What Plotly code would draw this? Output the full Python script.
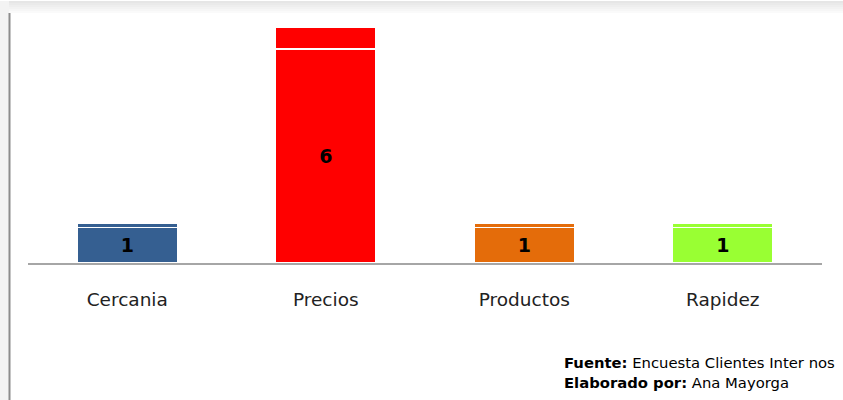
import plotly.graph_objects as go

categorias = ["Cercania", "Precios", "Productos", "Rapidez"]
valores = [1, 6, 1, 1]
colores = ["#355F91", "#FF0000", "#E46C0A", "#99FF33"]

# top face of each bar takes this share of its height
TAPA = 0.095

base = [v * (1 - TAPA) for v in valores]
tapa = [v * TAPA for v in valores]

fig = go.Figure()

fig.add_trace(go.Bar(
    x=categorias, y=base,
    marker=dict(color=colores, line=dict(color="white", width=1.5)),
    text=[str(v) for v in valores],
    textposition="inside", insidetextanchor="middle",
    textfont=dict(family="DejaVu Sans", size=19, color="black", weight="bold"),
    textangle=0,
    hoverinfo="skip", showlegend=False,
))
fig.add_trace(go.Bar(
    x=categorias, y=tapa,
    marker=dict(color=colores, line=dict(color="white", width=1.5)),
    hoverinfo="skip", showlegend=False,
))

shapes = []
# grey header band with a soft gradient
greys = ["#e6e6e6", "#eaeaea", "#eeeeee", "#f2f2f2", "#f6f6f6", "#fafafa"]
for i, g in enumerate(greys):
    shapes.append(dict(type="rect", xref="paper", yref="paper",
                       x0=-28 / 794, x1=1 + 21 / 794,
                       y0=1 + (12 - 2 * i - 2) / 250, y1=1 + (12 - 2 * i) / 250 + 0.0001,
                       line=dict(width=0), fillcolor=g, layer="below"))
# left shaded margin and frame line
shapes.append(dict(type="rect", xref="paper", yref="paper",
                   x0=-28 / 794, x1=-19 / 794, y0=-137 / 250, y1=1 + 12 / 250,
                   line=dict(width=0), fillcolor="#f3f3f3", layer="below"))
shapes.append(dict(type="line", xref="paper", yref="paper",
                   x0=-18.5 / 794, x1=-18.5 / 794, y0=-137 / 250, y1=1,
                   line=dict(color="#8c8c8c", width=2)))

fig.update_layout(
    width=843, height=400,
    margin=dict(l=28, r=21, t=13, b=137),
    paper_bgcolor="white", plot_bgcolor="white",
    barmode="stack", bargap=0.495,
    shapes=shapes,
    xaxis=dict(
        showline=True, linecolor="#a6a6a6", linewidth=2,
        ticks="outside", ticklen=19, tickcolor="rgba(0,0,0,0)",
        tickfont=dict(family="DejaVu Sans", size=18.5, color="#222222"),
        showgrid=False, fixedrange=True,
    ),
    yaxis=dict(range=[0, 6.35], visible=False, showgrid=False, fixedrange=True),
    annotations=[
        dict(xref="paper", yref="paper", x=(562 - 28) / 794, y=-(362 - 263) / 250,
             xanchor="left", yanchor="middle", showarrow=False,
             text="<b>Fuente:</b> Encuesta Clientes Inter nos",
             font=dict(family="DejaVu Sans", size=14.8, color="black")),
        dict(xref="paper", yref="paper", x=(562 - 28) / 794, y=-(382 - 263) / 250,
             xanchor="left", yanchor="middle", showarrow=False,
             text="<b>Elaborado por:</b> Ana Mayorga",
             font=dict(family="DejaVu Sans", size=14.8, color="black")),
    ],
)

fig.write_html("out.html")
